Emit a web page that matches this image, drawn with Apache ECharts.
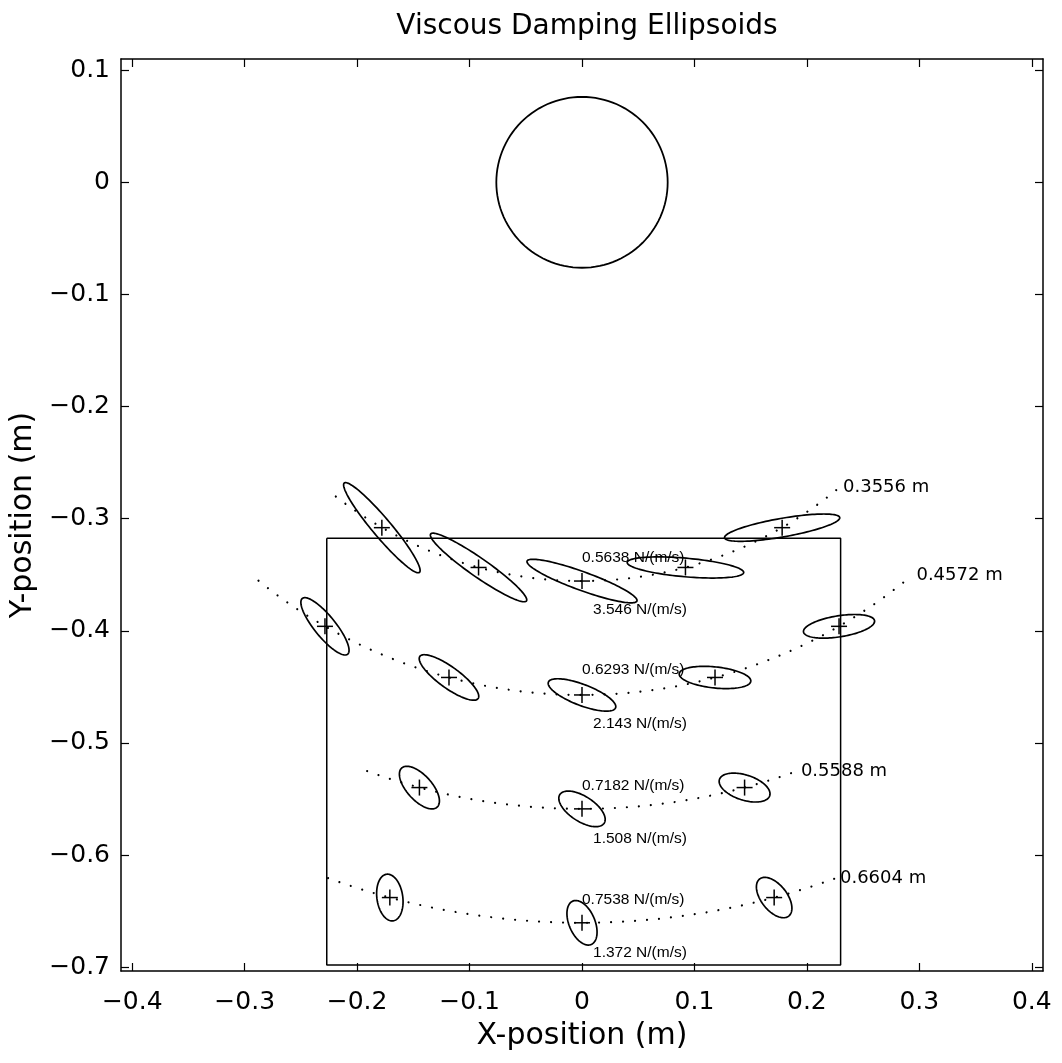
<!DOCTYPE html>
<html>
<head>
<meta charset="utf-8">
<title>Viscous Damping Ellipsoids</title>
<script src="https://cdn.jsdelivr.net/npm/echarts@6.0.0/dist/echarts.min.js"></script>
<style>
  html, body { margin: 0; padding: 0; background: #fff; }
  #chart { width: 1062px; height: 1063px; }
</style>
</head>
<body>
<div id="chart"></div>
<script>
  // axis ticks
  var xTicks = [-0.4, -0.3, -0.2, -0.1, 0, 0.1, 0.2, 0.3, 0.4];
  var yTicks = [-0.7, -0.6, -0.5, -0.4, -0.3, -0.2, -0.1, 0, 0.1];

  // shoulder (circle at origin) and the table outline
  var shoulderCircle = [0, 0, 0.0762];
  var tableX = [-0.227, 0.23, 0.23, -0.227, -0.227];
  var tableY = [-0.3174, -0.3174, -0.698, -0.698, -0.3174];

  // dotted arcs of constant reach (angles in degrees from straight down)
  var arcRadius = [0.3556, 0.4572, 0.5588, 0.6604];
  var arcFrom = [-38, -39, -20, -20];
  var arcTo = [40, 40, 20, 20];
  var arcLabel = ['0.3556 m', '0.4572 m', '0.5588 m', '0.6604 m'];

  // ellipse centres (+) and shapes
  var ellX = [-0.178, -0.092, 0, 0.092, 0.178,
              -0.2286, -0.1183, 0, 0.1183, 0.2286,
              -0.1446, 0, 0.1446,
              -0.1709, 0, 0.1709];
  var ellY = [-0.308, -0.3435, -0.3556, -0.3435, -0.308,
              -0.396, -0.4416, -0.4572, -0.4416, -0.396,
              -0.5398, -0.5588, -0.5398,
              -0.6379, -0.6604, -0.6379];
  var ellMajor = [0.052, 0.052, 0.052, 0.052, 0.052,
                  0.032, 0.032, 0.032, 0.032, 0.032,
                  0.0235, 0.0235, 0.0235,
                  0.021, 0.021, 0.021];
  var ellMinor = [0.0083, 0.0083, 0.0083, 0.0083, 0.0083,
                  0.0094, 0.0094, 0.0094, 0.0094, 0.0094,
                  0.0112, 0.0112, 0.0112,
                  0.0115, 0.0115, 0.0115];
  var ellAngle = [-50, -35, -20, -5, 10,
                  -51, -36, -21, -6, 9,
                  -48, -33, -18,
                  -82, -67, -52];

  // damping values written beside the centre ellipse of each arc
  var minText = ['0.5638 N/(m/s)', '0.6293 N/(m/s)', '0.7182 N/(m/s)', '0.7538 N/(m/s)'];
  var minX = [0, 0, 0, 0];
  var minY = [-0.3345, -0.435, -0.538, -0.6396];
  var maxText = ['3.546 N/(m/s)', '2.143 N/(m/s)', '1.508 N/(m/s)', '1.372 N/(m/s)'];
  var maxX = [0.0098, 0.0098, 0.0098, 0.0098];
  var maxY = [-0.381, -0.4826, -0.585, -0.6867];

  var BIG_FONT = 'DejaVu Sans';
  var SMALL_FONT = 'Liberation Sans';
  var black = '#000';

  function tickText(v) {
    if (Math.abs(v) < 1e-9) return '0';
    return (v < 0 ? '\u2212' : '') + Math.abs(v).toFixed(1);
  }

  function ellipsePoints(api, cx, cy, a, b, deg) {
    var phi = deg * Math.PI / 180;
    var pts = [];
    for (var k = 0; k < 120; k++) {
      var t = k / 120 * 2 * Math.PI;
      var x = cx + a * Math.cos(t) * Math.cos(phi) - b * Math.sin(t) * Math.sin(phi);
      var y = cy + a * Math.cos(t) * Math.sin(phi) + b * Math.sin(t) * Math.cos(phi);
      pts.push(api.coord([x, y]));
    }
    return pts;
  }

  function axisX(pos, showLabel) {
    return {
      type: 'value', position: pos, min: -0.41, max: 0.41,
      axisLine: { show: true, onZero: false, lineStyle: { color: black, width: 1.5 } },
      axisTick: { show: true, inside: true, length: 8, customValues: xTicks, lineStyle: { color: black, width: 1.2 } },
      axisLabel: {
        show: showLabel, customValues: xTicks, formatter: tickText, margin: 19,
        color: black, fontFamily: BIG_FONT, fontSize: 25
      },
      splitLine: { show: false }
    };
  }
  function axisY(pos, showLabel) {
    return {
      type: 'value', position: pos, min: -0.7034, max: 0.11,
      axisLine: { show: true, onZero: false, lineStyle: { color: black, width: 1.5 } },
      axisTick: { show: true, inside: true, length: 8, customValues: yTicks, lineStyle: { color: black, width: 1.2 } },
      axisLabel: {
        show: showLabel, customValues: yTicks, formatter: tickText, margin: 11,
        color: black, fontFamily: BIG_FONT, fontSize: 25
      },
      splitLine: { show: false }
    };
  }

  var xBottom = axisX('bottom', true);
  xBottom.name = 'X-position (m)';
  xBottom.nameLocation = 'middle';
  xBottom.nameGap = 50;
  xBottom.nameTextStyle = { color: black, fontFamily: BIG_FONT, fontSize: 30 };
  var yLeft = axisY('left', true);
  yLeft.name = 'Y-position (m)';
  yLeft.nameLocation = 'middle';
  yLeft.nameGap = 72;
  yLeft.nameTextStyle = { color: black, fontFamily: BIG_FONT, fontSize: 30 };

  var ellipseData = ellX.map(function (x, i) {
    return [x, ellY[i], ellMajor[i], ellMinor[i], ellAngle[i]];
  });
  var arcData = arcRadius.map(function (r, i) { return [0, -r, r, arcFrom[i], arcTo[i]]; });
  var textData = minText.map(function (t, i) { return [minX[i], minY[i], i, 0]; })
    .concat(maxText.map(function (t, i) { return [maxX[i], maxY[i], i, 1]; }));

  var chart = echarts.init(document.getElementById('chart'));
  var option = {
    backgroundColor: '#fff',
    animation: false,
    title: {
      text: 'Viscous Damping Ellipsoids',
      left: 582, top: 8, textAlign: 'center',
      textStyle: { color: black, fontFamily: BIG_FONT, fontSize: 28, fontWeight: 'normal' }
    },
    grid: { left: 121, right: 19, top: 59, bottom: 92, outerBoundsMode: 'none' },
    xAxis: [xBottom, axisX('top', false)],
    yAxis: [yLeft, axisY('right', false)],
    series: [
      {
        // table outline
        type: 'line',
        data: tableX.map(function (x, i) { return [x, tableY[i]]; }),
        symbol: 'none',
        lineStyle: { color: black, width: 1.5 },
        z: 2
      },
      {
        // shoulder circle
        type: 'custom',
        data: [shoulderCircle],
        encode: { x: 0, y: 1 },
        renderItem: function (params, api) {
          return {
            type: 'polygon',
            shape: { points: ellipsePoints(api, api.value(0), api.value(1), api.value(2), api.value(2), 0) },
            style: { fill: 'none', stroke: black, lineWidth: 1.8 }
          };
        },
        z: 3
      },
      {
        // dotted arcs with their reach labels
        type: 'custom',
        data: arcData,
        encode: { x: 0, y: 1 },
        renderItem: function (params, api) {
          var r = api.value(2), from = api.value(3), to = api.value(4);
          var pts = [];
          for (var d = from; d <= to + 1e-9; d += 0.25) {
            var th = d * Math.PI / 180;
            pts.push(api.coord([r * Math.sin(th), -r * Math.cos(th)]));
          }
          var end = pts[pts.length - 1];
          return {
            type: 'group',
            children: [
              {
                type: 'polyline', shape: { points: pts },
                style: { fill: 'none', stroke: black, lineWidth: 2.2, lineDash: [0.01, 12], lineCap: 'round' }
              },
              {
                type: 'text', x: end[0] + 4, y: end[1],
                style: {
                  text: arcLabel[params.dataIndex], fill: black,
                  fontFamily: BIG_FONT, fontSize: 18, align: 'left', verticalAlign: 'middle'
                }
              }
            ]
          };
        },
        z: 3
      },
      {
        // damping ellipses with centre crosses
        type: 'custom',
        data: ellipseData,
        encode: { x: 0, y: 1 },
        renderItem: function (params, api) {
          var cx = api.value(0), cy = api.value(1);
          var c = api.coord([cx, cy]);
          return {
            type: 'group',
            children: [
              {
                type: 'polygon',
                shape: { points: ellipsePoints(api, cx, cy, api.value(2), api.value(3), api.value(4)) },
                style: { fill: 'none', stroke: black, lineWidth: 1.7 }
              },
              {
                type: 'line', shape: { x1: c[0] - 8, y1: c[1], x2: c[0] + 8, y2: c[1] },
                style: { stroke: black, lineWidth: 1.5 }
              },
              {
                type: 'line', shape: { x1: c[0], y1: c[1] - 8, x2: c[0], y2: c[1] + 8 },
                style: { stroke: black, lineWidth: 1.5 }
              }
            ]
          };
        },
        z: 4
      },
      {
        // damping values
        type: 'custom',
        data: textData,
        encode: { x: 0, y: 1 },
        renderItem: function (params, api) {
          var p = api.coord([api.value(0), api.value(1)]);
          var i = api.value(2);
          var txt = api.value(3) === 0 ? minText[i] : maxText[i];
          return {
            type: 'text', x: p[0], y: p[1],
            style: {
              text: txt, fill: black, fontFamily: SMALL_FONT, fontSize: 15.5,
              align: 'left', verticalAlign: 'middle'
            }
          };
        },
        z: 5
      }
    ]
  };
  chart.setOption(option);
</script>
</body>
</html>
